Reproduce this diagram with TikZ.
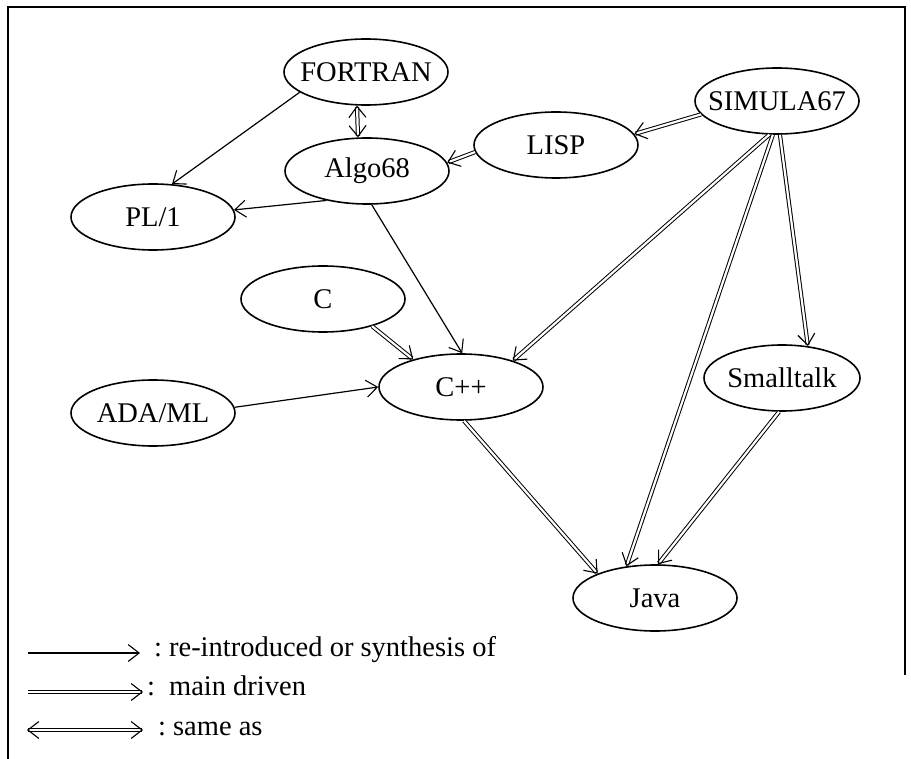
\documentclass[tikz,border=0pt]{standalone}
\usepackage{fontspec}
\setmainfont{Liberation Serif}
\usetikzlibrary{shapes.geometric,arrows.meta}

\tikzset{
  lang/.style={ellipse, draw, line width=1.6pt, minimum width=164pt, minimum height=66pt, inner sep=0pt},
  barb/.style={Straight Barb[length=11pt,width=17pt,line width=1.1pt]},
  thinarrow/.style={line width=1.2pt, -{Straight Barb[length=11pt,width=17pt,line width=1.1pt]}},
  mainarrow/.style={double, double distance=2.2pt, line width=1pt, -{Straight Barb[length=11pt,width=17pt,line width=1.1pt]}},
  samearrow/.style={double, double distance=2.2pt, line width=1pt, {Straight Barb[length=11pt,width=17pt,line width=1.1pt]}-{Straight Barb[length=11pt,width=17pt,line width=1.1pt]}},
  legendtext/.style={anchor=base west, inner sep=0pt},
  every node/.style={font=\fontsize{28.5}{30}\selectfont},
  frame/.style={line width=2.2pt}
}

\begin{document}
\begin{tikzpicture}[x=1pt, y=-1pt]
\useasboundingbox (0,0) rectangle (911,759);

% frame
\coordinate (fl) at (8,759);
\coordinate (ftl) at (8,7);
\coordinate (ftr) at (905,7);
\coordinate (fr) at (905,675);
\draw[frame] (fl) -- (ftl) -- (ftr) -- (fr);

% languages
\node[lang, label=center:FORTRAN]   (FORTRAN)   at (366,72)  {};
\node[lang, label=center:Algo68]    (Algo68)    at (367,171) {};
\node[lang, label=center:LISP]      (LISP)      at (556,145) {};
\node[lang, label=center:SIMULA67]  (SIMULA)    at (777,101) {};
\node[lang, label=center:PL/1]      (PL1)       at (153,217) {};
\node[lang, label=center:C]         (C)         at (323,299) {};
\node[lang, label=center:ADA/ML]    (ADA)       at (153,413) {};
\node[lang, label=center:C++]       (CPP)       at (461,387) {};
\node[lang, minimum width=156pt, label=center:Smalltalk] (Smalltalk) at (782,378) {};
\node[lang, label=center:Java]      (Java)      at (655,598) {};

% influences
\draw[thinarrow] (FORTRAN.197) -- (PL1.60);
\draw[samearrow] (FORTRAN.255) -- (Algo68.105);
\draw[mainarrow] (LISP.185) -- (Algo68.6);
\draw[mainarrow] (SIMULA.190) -- (LISP.8);
\draw[thinarrow] (Algo68.216) -- (PL1.5);
\draw[thinarrow] (Algo68.278) -- (CPP.88);
\draw[mainarrow] (C.331) -- (CPP.150);
\draw[thinarrow] (ADA.4) -- (CPP.180);
\draw[mainarrow] (SIMULA.257) -- (CPP.27);
\draw[mainarrow] (SIMULA.263) -- (Java.132);
\draw[mainarrow] (SIMULA.275) -- (Smalltalk.51);
\draw[mainarrow] (Smalltalk.265) -- (Java.85);
\draw[mainarrow] (CPP.275) -- (Java.157);

% legend
\coordinate (l1a) at (28,653);
\coordinate (l1b) at (140,653);
\coordinate (l2a) at (28,692);
\coordinate (l2b) at (143,692);
\coordinate (l3a) at (27,730);
\coordinate (l3b) at (143,730);
\draw[thinarrow] (l1a) -- (l1b);
\draw[mainarrow] (l2a) -- (l2b);
\draw[samearrow] (l3a) -- (l3b);
\node[legendtext] (t1) at (154,656) {:\hspace{7pt}re-introduced or synthesis of};
\node[legendtext] (t2) at (147,695) {:\hspace{14pt}main driven};
\node[legendtext] (t3) at (158,735) {:\hspace{7pt}same as};
\end{tikzpicture}
\end{document}
